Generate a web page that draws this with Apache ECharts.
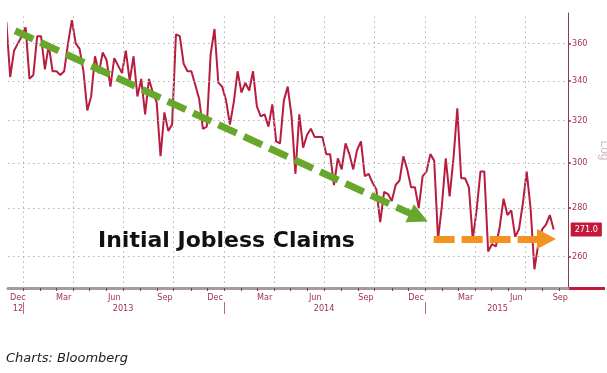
<!DOCTYPE html>
<html><head><meta charset="utf-8">
<script src="https://cdn.jsdelivr.net/npm/echarts@6/dist/echarts.min.js"></script>
<style>html,body{margin:0;padding:0;background:#fff}#c{width:607px;height:373px}</style>
</head><body><div id="c"></div>
<script>
// weekly initial jobless claims (thousands), week ending Saturdays from 2012-12-01
const firstWeek = '2012-12-01';
const claims = [
 372,342,356,360,364,
 369,341,343,364,364,346,359,345,345,343,345,360,373,360,357,345,325,332,353,344,355,
 351,337,352,348,344,356,340,353,332,341,323,341,334,329,303,324,315,318,365,364,349,345,
 345,338,331,316,317,354,368,339,337,
 330,318,329,345,334,339,335,345,327,322,323,317,328,310,309,330,337,322,295,323,307,313,
 316,312,312,312,304,304,290,302,297,309,304,297,306,310,294,295,291,288,274,287,286,
 283,290,292,303,297,289,289,280,294,
 296,304,301,267,281,302,285,302,326,293,293,289,267,279,296,296,262,265,264,272,284,277,
 279,268,271,282,296,280,255,265,271,273,277,271
];
const yTicks = [260, 280, 300, 320, 340, 360];
const monthLabelDates = ['2012-12-22','2013-03-15','2013-06-15','2013-09-15','2013-12-15','2014-03-15','2014-06-15','2014-09-15','2014-12-15','2015-03-15','2015-06-15','2015-09-03'];
const monthTickDates = [];
const yearLabels = [['2012-12-22','12'],['2013-07-01','2013'],['2014-07-01','2014'],['2015-05-12','2015']];
const yearSeparators = ['2013-01-01','2014-01-01','2015-01-01'];
const gridDates = ['2013-01-01','2013-04-01','2013-07-01','2013-10-01','2014-01-01','2014-04-01','2014-07-01','2014-10-01','2015-01-01','2015-04-01','2015-07-01'];
const trendDown = [['2012-12-17', 367], ['2014-12-20', 276]];
const trendFlat = [['2015-01-16', 267], ['2015-08-09', 267]];
const xRange = ['2012-12-04', '2015-09-17'];
const yRange = [247.8, 377.1];

const ts = s => { const p = s.split('-').map(Number); return Date.UTC(p[0], p[1]-1, p[2]); };
const DAY = 86400000;
const seriesData = claims.map((v, i) => [ts(firstWeek) + i * 7 * DAY, v]);
for (let y = 2012; y <= 2015; y++) for (let m = 0; m < 12; m++) {
  const t = Date.UTC(y, m, 1);
  if (t >= ts(xRange[0]) && t <= ts(xRange[1])) monthTickDates.push(t);
}
const MONTHS = ['Jan','Feb','Mar','Apr','May','Jun','Jul','Aug','Sep','Oct','Nov','Dec'];
const labelColor = '#a2334c';
const fontNarrow = '"Liberation Sans Narrow", "DejaVu Sans Condensed", sans-serif';
const yearMap = {}; yearLabels.forEach(([d, t]) => yearMap[ts(d)] = t);

const chart = echarts.init(document.getElementById('c'));
const dotted = { color: '#b4b4b4', width: 1, type: [1.5, 3.5] };
chart.setOption({
  animation: false,
  backgroundColor: '#fff',
  grid: { left: 8, right: 39, top: 13, bottom: 85, containLabel: false, outerBoundsMode: 'none' },
  xAxis: [
    {
      type: 'value', min: ts(xRange[0]), max: ts(xRange[1]), position: 'bottom', scale: true,
      axisLine: { show: true, lineStyle: { color: '#a39b9d', width: 3 } },
      axisTick: { show: true, customValues: monthTickDates, length: 3, lineStyle: { color: '#8b3a4a' } },
      axisLabel: {
        customValues: monthLabelDates.map(ts), margin: 5, fontSize: 9, color: labelColor, fontFamily: fontNarrow,
        formatter: v => MONTHS[new Date(v).getUTCMonth()]
      },
      splitLine: { show: false }
    },
    {
      type: 'value', min: ts(xRange[0]), max: ts(xRange[1]), position: 'bottom', offset: 14, scale: true,
      axisLine: { show: false },
      axisTick: { show: true, customValues: yearSeparators.map(ts), length: 12, lineStyle: { color: '#b07080' } },
      axisLabel: {
        customValues: yearLabels.map(d => ts(d[0])), margin: 2, fontSize: 9, color: labelColor, fontFamily: fontNarrow,
        formatter: v => yearMap[v] || ''
      },
      splitLine: { show: false }
    }
  ],
  yAxis: {
    type: 'log', logBase: 10, min: yRange[0], max: yRange[1], position: 'right',
    name: 'Log', nameLocation: 'middle', nameGap: 25, nameRotate: -90,
    nameTextStyle: { color: '#d2b7be', fontSize: 12, fontFamily: '"Liberation Sans", sans-serif' },
    axisLine: { show: true, lineStyle: { color: '#8b3a4a', width: 1 } },
    axisTick: { show: true, customValues: yTicks, length: 3, lineStyle: { color: '#8b3a4a', width: 1.5 } },
    axisLabel: { customValues: yTicks, margin: 4, fontSize: 9, color: labelColor, fontFamily: fontNarrow },
    splitLine: { show: false }
  },
  graphic: [
    { type: 'text', left: 98, top: 230, style: { text: 'Initial Jobless Claims', font: 'bold 22px "DejaVu Sans", sans-serif', fill: '#111' } },
    { type: 'text', left: 6, top: 352, style: { text: 'Charts: Bloomberg', font: 'italic 13px "DejaVu Sans", sans-serif', fill: '#222' } },
    { type: 'rect', left: 568, top: 287, shape: { width: 37, height: 3 }, style: { fill: '#c3183c' } }
  ],
  series: [
    {
      type: 'line', data: [], z: 1, silent: true,
      markLine: {
        silent: true, symbol: 'none', label: { show: false }, lineStyle: dotted, animation: false,
        data: gridDates.map(d => ({ xAxis: ts(d) })).concat(yTicks.map(v => ({ yAxis: v })))
      }
    },
    {
      name: 'Initial Jobless Claims', type: 'line', data: seriesData, z: 2,
      showSymbol: false, symbol: 'none', clip: true,
      lineStyle: { color: '#b81d3f', width: 2 },
      endLabel: {
        show: true, distance: 17, formatter: p => p.value[1].toFixed(1),
        backgroundColor: '#c3183c', color: '#fff', fontSize: 9, padding: [3, 4, 2, 4], borderRadius: 1,
        fontFamily: fontNarrow
      }
    },
    {
      type: 'line', data: [], z: 5, silent: true,
      markLine: {
        silent: true, label: { show: false }, animation: false,
        data: [
          [ { coord: [ts(trendDown[0][0]), trendDown[0][1]], symbol: 'none' },
            { coord: [ts(trendDown[1][0]), trendDown[1][1]], symbol: 'triangle', symbolSize: [20, 20],
              lineStyle: { color: '#67a82c', width: 7, type: [20, 8] } } ],
          [ { coord: [ts(trendFlat[0][0]), trendFlat[0][1]], symbol: 'none' },
            { coord: [ts(trendFlat[1][0]), trendFlat[1][1]], symbol: 'triangle', symbolSize: [20, 19],
              lineStyle: { color: '#f39220', width: 7, type: [21, 7] } } ]
        ]
      }
    }
  ]
});
</script></body></html>
